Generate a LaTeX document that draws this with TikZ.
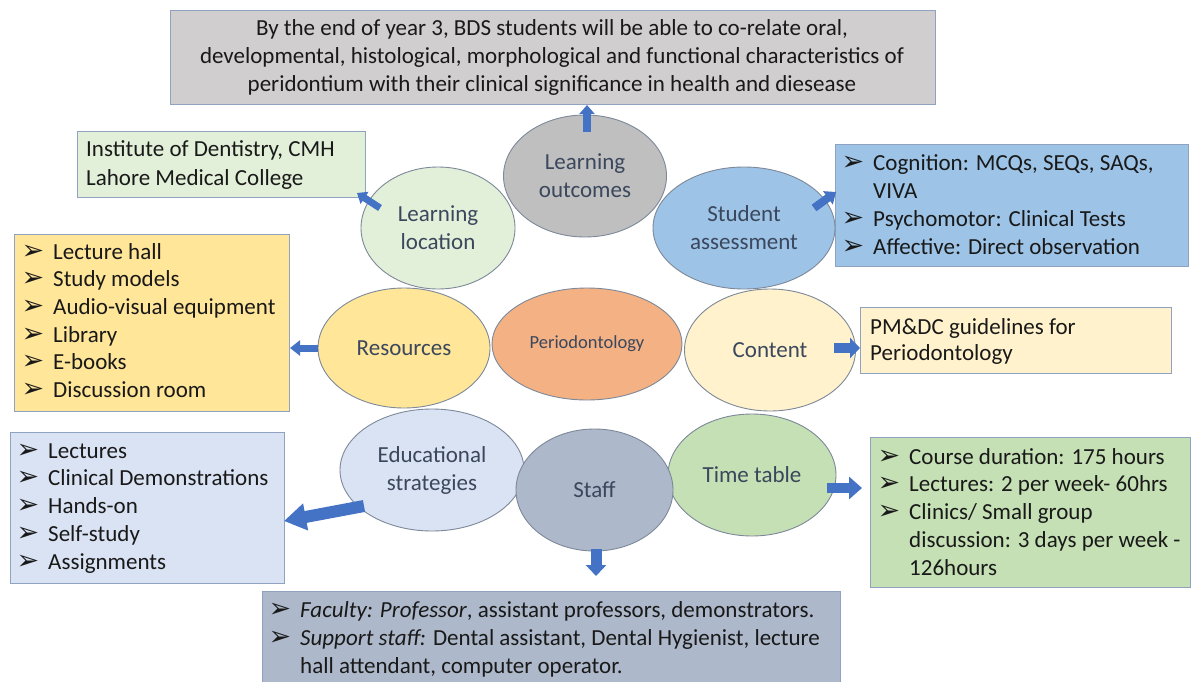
\documentclass[tikz,border=0pt]{standalone}
\usepackage{fontspec}
\setmainfont{Carlito}
\newfontfamily\dejavu{DejaVu Sans}
\usetikzlibrary{shapes.geometric,arrows.meta}
\definecolor{topgray}{HTML}{D0CECE}
\definecolor{outgray}{HTML}{BFBFBF}
\definecolor{locgreen}{HTML}{E2F0D9}
\definecolor{assblue}{HTML}{9DC3E6}
\definecolor{resyel}{HTML}{FFE699}
\definecolor{perio}{HTML}{F4B183}
\definecolor{contyel}{HTML}{FFF2CC}
\definecolor{edublue}{HTML}{DAE3F3}
\definecolor{staffgray}{HTML}{ADB9CA}
\definecolor{timegreen}{HTML}{C5E0B4}
\definecolor{arrowblue}{HTML}{4472C4}
\definecolor{boxborder}{HTML}{8FA2C0}
\definecolor{ellborder}{HTML}{7D8899}
\definecolor{elltext}{HTML}{3A475C}
\newcommand\bul{\llap{{\dejavu\fontsize{27}{27}\selectfont ➢}\hspace{9pt}}}
\newcommand\boxlines[5]{%
  \foreach \t [count=\i] in {#5} {\node[txt] (#1-\i) at (#2,{#3+(\i-1)*#4}) {\t};}}
\begin{document}
\begin{tikzpicture}[x=1pt,y=-1pt,
  ell/.style={ellipse, draw=ellborder, line width=0.9pt, inner sep=0pt,
    font=\fontsize{23}{28}\selectfont, text=elltext, align=center},
  box/.style={rectangle, draw=boxborder, line width=1pt, inner sep=0pt, anchor=north west},
  txt/.style={anchor=base west, inner sep=0pt, font=\fontsize{23}{28}\selectfont, text=black!90},
  barrow/.style={draw=arrowblue, line cap=butt}]
\useasboundingbox[fill=white] (0,0) rectangle (1193,682);

% ---------- boxes ----------
\node[box, fill=topgray, minimum width=765, minimum height=94] (top) at (170,10) {};
\foreach \t [count=\i] in {{By the end of year 3, BDS students will be able to co-relate oral,},
  {developmental, histological, morphological and functional characteristics of},
  {peridontium with their clinical significance in health and diesease}}
  {\node[txt, anchor=base] (top-\i) at (552,{36+(\i-1)*28}) {\t};}

\node[box, fill=locgreen, minimum width=288, minimum height=66] (inst) at (77,131) {};
\boxlines{inst}{86}{157}{28}{{Institute of Dentistry, CMH},{Lahore Medical College}}

\node[box, fill=assblue, minimum width=353, minimum height=122] (assbox) at (835,144) {};
\boxlines{assbox}{873}{170}{28}{{\bul Cognition: MCQs, SEQs, SAQs,},{VIVA},{\bul Psychomotor: Clinical Tests},{\bul Affective: Direct observation}}

\node[box, fill=resyel, minimum width=275, minimum height=177] (resbox) at (14,234) {};
\boxlines{resbox}{53}{259}{27.7}{{\bul Lecture hall},{\bul Study models},{\bul Audio-visual equipment},{\bul Library},{\bul E-books},{\bul Discussion room}}

\node[box, fill=contyel, minimum width=311, minimum height=66] (contbox) at (860,307) {};
\boxlines{contbox}{870}{334}{26.5}{{PM\&DC guidelines for},{Periodontology}}

\node[box, fill=edublue, minimum width=274, minimum height=151] (edubox) at (10,432) {};
\boxlines{edubox}{48}{458}{27.8}{{\bul Lectures},{\bul Clinical Demonstrations},{\bul Hands-on},{\bul Self-study},{\bul Assignments}}

\node[box, fill=timegreen, minimum width=320, minimum height=150] (timebox) at (870,437) {};
\boxlines{timebox}{909}{464}{27.8}{{\bul Course duration: 175 hours},{\bul Lectures: 2 per week- 60hrs},{\bul Clinics/ Small group},{discussion: 3 days per week -},{126hours}}

\node[box, fill=staffgray, minimum width=578, minimum height=95] (staffbox) at (262,591) {};
\boxlines{staffbox}{300}{617}{28}{{\bul \textit{Faculty: Professor}, assistant professors, demonstrators.},{\bul \textit{Support staff:} Dental assistant, Dental Hygienist, lecture},{hall attendant, computer operator.}}

% ---------- ellipses ----------
\node[ell, fill=locgreen, minimum width=154, minimum height=122] (loc) at (438,228) {Learning\\location};
\node[ell, fill=assblue, minimum width=182, minimum height=122] (ass) at (744,228) {Student\\assessment};
\node[ell, fill=outgray, minimum width=163, minimum height=122] (out) at (585,176) {Learning\\outcomes};
\node[ell, fill=resyel, minimum width=172, minimum height=120] (res) at (404,348) {Resources};
\node[ell, fill=perio, minimum width=190, minimum height=112, font=\fontsize{18.5}{20}\selectfont] (per) at (587,344) {Periodontology};
\node[ell, fill=contyel, minimum width=171, minimum height=122] (cont) at (770,350) {Content};
\node[ell, fill=edublue, minimum width=184, minimum height=122] (edu) at (432,470) {Educational\\strategies};
\node[ell, fill=timegreen, minimum width=168, minimum height=122] (time) at (752,475) {Time table};
\node[ell, fill=staffgray, minimum width=157, minimum height=122] (staff) at (594.5,490) {Staff};

% ---------- arrows ----------
\coordinate (aO) at (587,132);
\draw[barrow, line width=8pt, -{Triangle[width=15pt,length=9pt]}] (aO) -- (aO |- top.south);
\coordinate (aL1) at (380,208); \coordinate (aL2) at (357,193);
\draw[barrow, line width=7pt, -{Triangle[width=14pt,length=9pt]}] (aL1) -- (aL2);
\coordinate (aA1) at (814,208); \coordinate (aA2) at (836,192);
\draw[barrow, line width=8pt, -{Triangle[width=16pt,length=10pt]}] (aA1) -- (aA2);
\draw[barrow, line width=7pt, -{Triangle[width=15pt,length=10pt]}] (res.west) -- (res.west -| resbox.east);
\coordinate (aC) at (834,348);
\draw[barrow, line width=10pt, -{Triangle[width=20pt,length=10pt]}] (aC) -- (aC -| contbox.west);
\coordinate (aE1) at (364,506); \coordinate (aE2) at (284,521);
\draw[barrow, line width=12pt, -{Triangle[width=26pt,length=22pt]}] (aE1) -- (aE2);
\coordinate (aT1) at (827,488); \coordinate (aT2) at (862,488);
\draw[barrow, line width=10pt, -{Triangle[width=22pt,length=13pt]}] (aT1) -- (aT2);
\coordinate (aS1) at (596,549); \coordinate (aS2) at (596,576);
\draw[barrow, line width=11pt, -{Triangle[width=20pt,length=11pt]}] (aS1) -- (aS2);
\end{tikzpicture}
\end{document}
